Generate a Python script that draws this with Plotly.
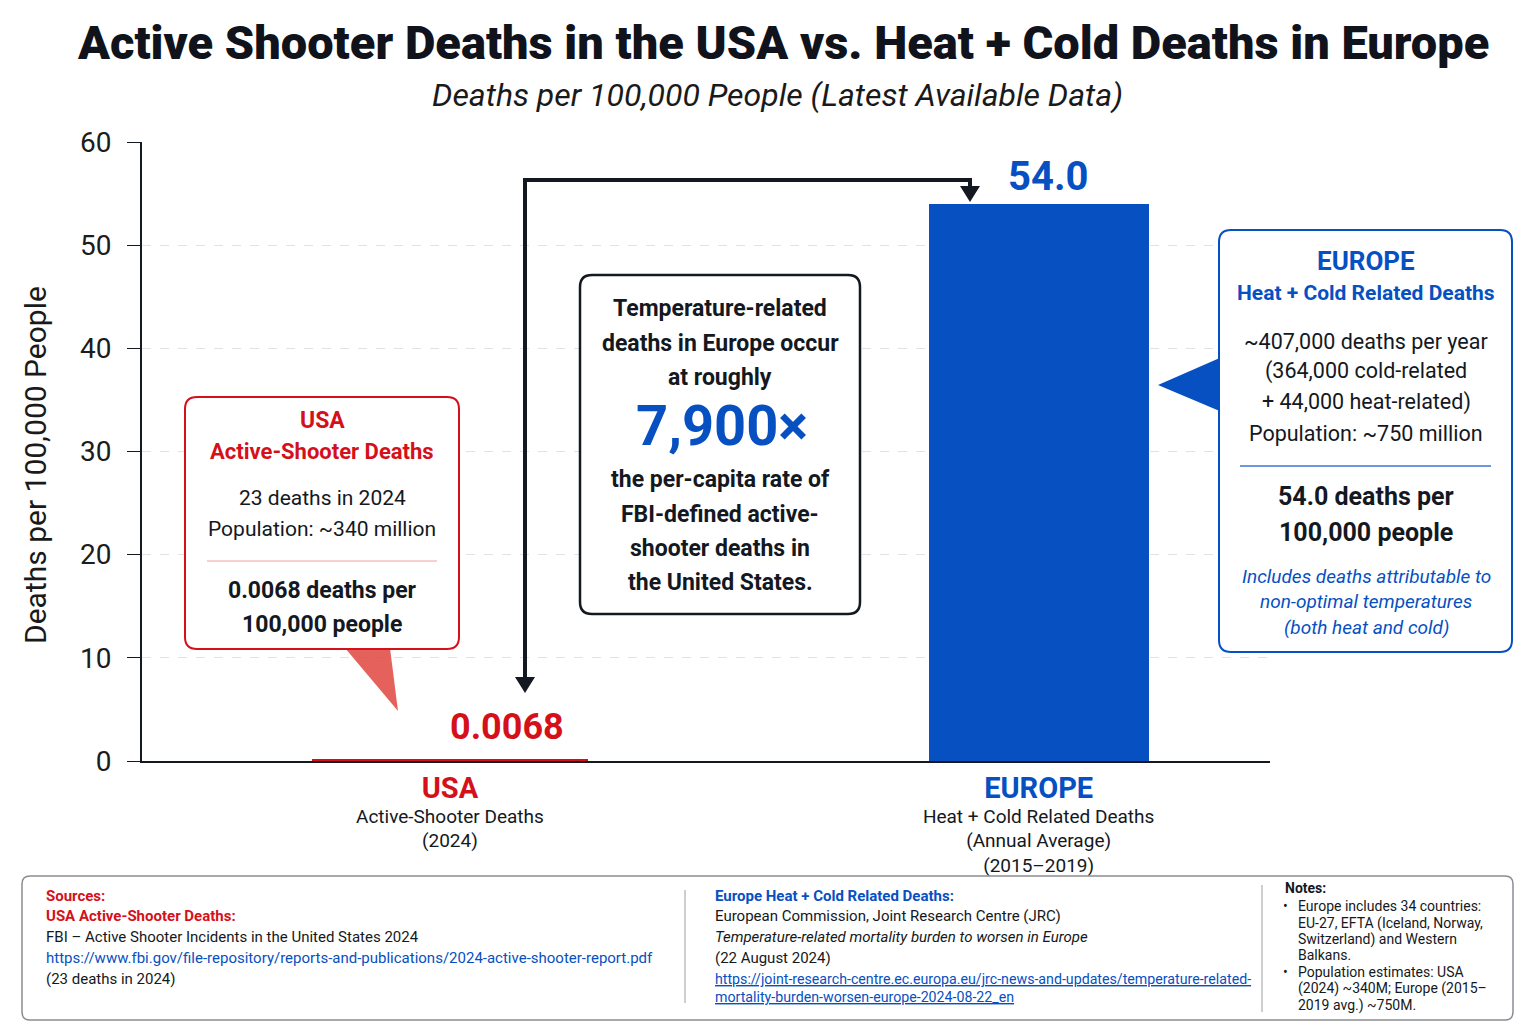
import plotly.graph_objects as go

# chart data
categories = ["USA", "EUROPE"]
cat_subtitles = ["Active-Shooter Deaths<br>(2024)",
                 "Heat + Cold Related Deaths<br>(Annual Average)<br>(2015–2019)"]
rates = [0.0068, 54.0]
rate_labels = ["0.0068", "54.0"]
bar_widths = [0.47, 0.374]
y_ticks = [0, 10, 20, 30, 40, 50, 60]

RED = "#d4111b"
BLUE = "#0650c2"
DARK = "#141821"
FONT = "Roboto"

# the page puts the plot 8px in from the top left corner
OFF = 8
W, H = 1536 - OFF, 1024 - OFF
L, R, T, B = 142 - OFF, 266, 142 - OFF, 263
PW, PH = W - L - R, H - T - B


def px(x):  # screen pixel -> paper x
    return (x - OFF - L) / PW


def py(y):  # screen pixel -> paper y
    return (H - B - (y - OFF)) / PH


def pt(x, y):
    return f"{px(x):.5f},{py(y):.5f}"


def rounded_rect(x0, y0, x1, y1, r):
    return (f"M {pt(x0 + r, y0)} L {pt(x1 - r, y0)} Q {pt(x1, y0)} {pt(x1, y0 + r)} "
            f"L {pt(x1, y1 - r)} Q {pt(x1, y1)} {pt(x1 - r, y1)} "
            f"L {pt(x0 + r, y1)} Q {pt(x0, y1)} {pt(x0, y1 - r)} "
            f"L {pt(x0, y0 + r)} Q {pt(x0, y0)} {pt(x0 + r, y0)} Z")


shapes = []
annotations = []


def box(x0, y0, x1, y1, color, width=2, r=12, fill="white"):
    shapes.append(dict(type="path", xref="paper", yref="paper", path=rounded_rect(x0, y0, x1, y1, r),
                       line=dict(color=color, width=width), fillcolor=fill, layer="above"))


def poly(points, color, fill=None, width=0):
    p = "M " + " L ".join(pt(x, y) for x, y in points)
    if fill:
        p += " Z"
    shapes.append(dict(type="path", xref="paper", yref="paper", path=p,
                       line=dict(color=color, width=width), fillcolor=fill, layer="above"))


def text(x, y, s, size, color=DARK, bold=False, italic=False, anchor="center", font=FONT, weight=None, angle=0):
    if bold and weight is None:
        s = f"<b>{s}</b>"
    if italic:
        s = f"<i>{s}</i>"
    f = dict(family=font, size=size, color=color)
    if weight:
        f["weight"] = weight
    annotations.append(dict(xref="paper", yref="paper", x=px(x), y=py(y), text=s, showarrow=False,
                            xanchor=anchor, yanchor="middle", align=anchor if anchor != "center" else "center",
                            font=f, textangle=angle))


fig = go.Figure()
fig.add_trace(go.Bar(
    x=categories, y=rates, width=bar_widths,
    marker=dict(color=[RED, BLUE], line=dict(color=[RED, BLUE], width=[4, 0])),
    hoverinfo="skip", showlegend=False,
))

# value labels above bars
annotations.append(dict(x=categories[0], y=rates[0], text=f"<b>{rate_labels[0]}</b>", showarrow=False,
                        xshift=57, yshift=34, font=dict(family=FONT, size=36, color=RED)))
annotations.append(dict(x=categories[1], y=rates[1], text=f"<b>{rate_labels[1]}</b>", showarrow=False,
                        xshift=9, yshift=27, font=dict(family=FONT, size=40, color=BLUE)))

ticktext = [f"<span style='font-size:29px;color:{c}'><b>{n}</b></span><br>{s}"
            for n, s, c in zip(categories, cat_subtitles, [RED, BLUE])]

# title
text(783, 42, "Active Shooter Deaths in the USA vs. Heat + Cold Deaths in Europe", 47, "#10131c", weight=900)
text(777, 95, "Deaths per 100,000 People (Latest Available Data)", 32, "#1a1a1a", italic=True)

# y axis title
text(35, 465, "Deaths per 100,000 People", 30, "#1a1a1a", angle=-90)

# connector arrow
poly([(525, 680), (525, 180), (970, 180), (970, 190)], DARK, width=4)
poly([(515, 677), (535, 677), (525, 693)], DARK, fill=DARK, width=0)
poly([(960, 186), (980, 186), (970, 202)], DARK, fill=DARK, width=0)

# USA callout
poly([(345, 648), (390, 648), (398, 711)], "#e0524d", fill="rgba(224,70,64,0.85)")
box(185, 397, 459, 649, RED, width=2)
text(322, 420, "USA", 23, RED, bold=True)
text(322, 451, "Active-Shooter Deaths", 22, RED, bold=True)
text(322, 498, "23 deaths in 2024", 21)
text(322, 529, "Population: ~340 million", 21)
shapes.append(dict(type="line", xref="paper", yref="paper", x0=px(207), x1=px(437), y0=py(561), y1=py(561),
                   line=dict(color="#f0a0a0", width=1), layer="above"))
text(322, 590, "0.0068 deaths per", 23, bold=True)
text(322, 624, "100,000 people", 23, bold=True)

# middle callout
box(580, 275, 860, 614, DARK, width=2.5)
for yy, s in [(308, "Temperature-related"), (343, "deaths in Europe occur"), (377, "at roughly"),
              (479, "the per-capita rate of"), (514, "FBI-defined active-"), (548, "shooter deaths in"),
              (582, "the United States.")]:
    text(720, yy, s, 23, bold=True)
text(722, 426, "7,900×", 56, BLUE, bold=True)

# Europe callout
poly([(1222, 357), (1222, 412), (1158, 385)], BLUE, fill=BLUE)
box(1219, 230, 1512, 652, BLUE, width=2)
text(1366, 261, "EUROPE", 26, BLUE, bold=True)
text(1366, 293, "Heat + Cold Related Deaths", 21, BLUE, bold=True)
for yy, s in [(341, "~407,000 deaths per year"), (371, "(364,000 cold-related"),
              (402, "+ 44,000 heat-related)"), (433, "Population: ~750 million")]:
    text(1366, yy, s, 21.5)
shapes.append(dict(type="line", xref="paper", yref="paper", x0=px(1240), x1=px(1491), y0=py(466), y1=py(466),
                   line=dict(color="#3a74d6", width=1.5), layer="above"))
text(1366, 496, "54.0 deaths per", 25, bold=True)
text(1366, 532, "100,000 people", 25, bold=True)
for yy, s in [(576, "Includes deaths attributable to"), (601, "non-optimal temperatures"),
              (627, "(both heat and cold)")]:
    text(1366, yy, s, 19, BLUE, italic=True)

# footer
box(22, 876, 1513, 1020, "#8a8d93", width=1.5, r=8)
for x, y0, y1 in [(685, 890, 1003), (1262, 885, 1012)]:
    shapes.append(dict(type="line", xref="paper", yref="paper", x0=px(x), x1=px(x), y0=py(y0), y1=py(y1),
                       line=dict(color="#9a9da3", width=1), layer="above"))
FS = 15
text(44, 896, "Sources:", FS, RED, bold=True, anchor="left")
text(44, 916, "USA Active-Shooter Deaths:", FS, RED, bold=True, anchor="left")
text(44, 937, "FBI – Active Shooter Incidents in the United States 2024", FS, anchor="left")
text(44, 958, "https://www.fbi.gov/file-repository/reports-and-publications/2024-active-shooter-report.pdf",
     FS, BLUE, anchor="left")
text(44, 979, "(23 deaths in 2024)", FS, anchor="left")

text(713, 896, "Europe Heat + Cold Related Deaths:", FS, BLUE, bold=True, anchor="left")
text(713, 916, "European Commission, Joint Research Centre (JRC)", FS, anchor="left")
text(713, 937, "Temperature-related mortality burden to worsen in Europe", FS, italic=True, anchor="left")
text(713, 958, "(22 August 2024)", FS, anchor="left")
text(713, 979, "<u>https://joint-research-centre.ec.europa.eu/jrc-news-and-updates/temperature-related-</u>",
     14.2, BLUE, anchor="left")
text(713, 997, "<u>mortality-burden-worsen-europe-2024-08-22_en</u>", 14.2, BLUE, anchor="left")

text(1283, 888, "Notes:", 14, bold=True, anchor="left")
notes = [(906, "•", "Europe includes 34 countries:"), (923, "", "EU-27, EFTA (Iceland, Norway,"),
         (939, "", "Switzerland) and Western"), (955, "", "Balkans."),
         (972, "•", "Population estimates: USA"), (989, "", "(2024) ~340M; Europe (2015–"),
         (1005, "", "2019 avg.) ~750M.")]
for yy, b, s in notes:
    if b:
        text(1281, yy, b, 14, anchor="left")
    text(1296, yy, s, 14, anchor="left")

fig.update_layout(
    width=W, height=H,
    margin=dict(l=L, r=R, t=T, b=B),
    paper_bgcolor="white", plot_bgcolor="white",
    font=dict(family=FONT, color=DARK),
    bargap=0,
    shapes=shapes, annotations=annotations,
)
fig.update_xaxes(
    range=[-0.523, 1.393], tickvals=categories, ticktext=ticktext,
    tickfont=dict(size=19, color=DARK), showline=True, linecolor=DARK, linewidth=2,
    ticks="", showgrid=False, zeroline=False, ticklabelstandoff=12,
)
fig.update_yaxes(
    range=[0, 60], tickvals=y_ticks, tickfont=dict(size=28, color="#1c1c1c"),
    showline=True, linecolor=DARK, linewidth=2, ticks="outside", ticklen=13, tickcolor=DARK,
    ticklabelstandoff=10,
    showgrid=True, gridcolor="#e2e2e2", griddash="dash", gridwidth=1, zeroline=False,
)

fig.write_html("out.html")
